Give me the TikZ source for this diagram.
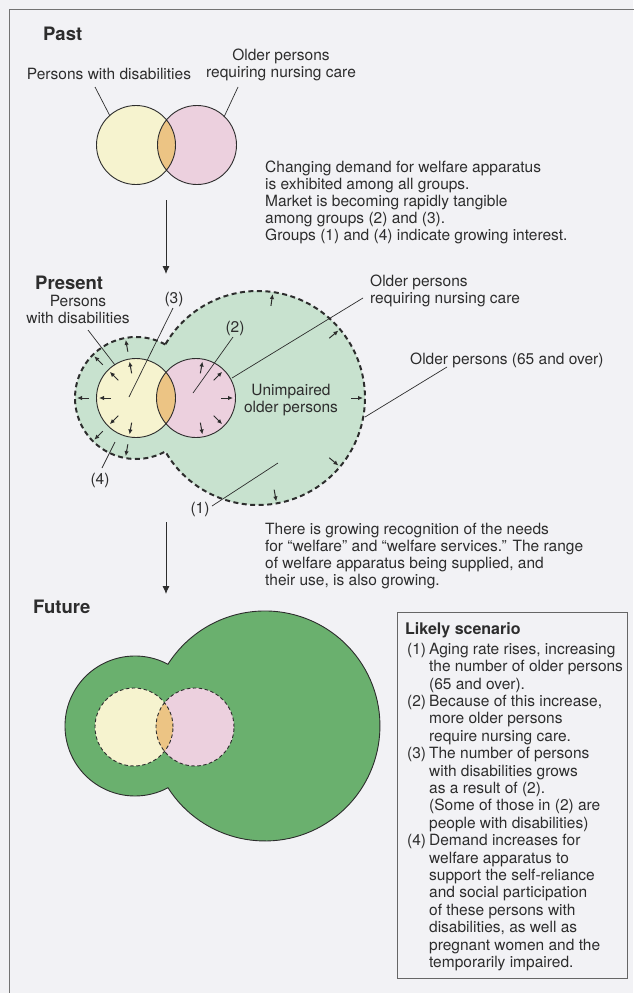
\documentclass[tikz,border=0pt]{standalone}
\usepackage{fontspec}
\setmainfont{TeX Gyre Heros}
\usetikzlibrary{positioning,arrows.meta}

\definecolor{paper}{RGB}{242,242,245}
\definecolor{yel}{RGB}{246,243,207}
\definecolor{pnk}{RGB}{236,208,222}
\definecolor{ora}{RGB}{236,196,132}
\definecolor{mint}{RGB}{200,226,207}
\definecolor{leaf}{RGB}{106,176,110}
\definecolor{ink}{RGB}{45,45,45}

\begin{document}
\begin{tikzpicture}[x=1pt, y=1pt,
        every node/.style={inner sep=0pt, text=ink},
        txt/.style={font=\fontsize{15.5}{17}\selectfont, align=left},
        head/.style={font=\fontsize{18.5}{20}\selectfont\bfseries},
        lead/.style={draw=ink, line width=0.7pt},
        flow/.style={draw=ink, line width=0.9pt, -{Latex[length=8pt,width=7pt]}},
        spread/.style={draw=ink, line width=1pt, -{Latex[length=5pt,width=4.5pt]}},
        ring/.style={draw=ink, line width=0.9pt},
        dashrim/.style={draw=ink, line width=2pt, dash pattern=on 5pt off 3.5pt},
        thinrim/.style={draw=ink, line width=0.9pt, dash pattern=on 3.5pt off 2.5pt}
    ]
    \fill[paper] (0,0) rectangle (633,-993);
    \useasboundingbox (0,0) rectangle (633,-993);
    \draw[black!55, line width=1pt] (9,-1000) -- (9,-9) -- (640,-9);

    % past
    \node[head, anchor=west] (past) at (43,-34) {Past};
    \coordinate (pY) at (136,-145);
    \coordinate (pP) at (197,-145);
    \fill[yel] (pY) circle (39.5);
    \fill[pnk] (pP) circle (39.5);
    \begin{scope}
        \clip (pY) circle (39.5);
        \fill[ora] (pP) circle (39.5);
    \end{scope}
    \draw[ring] (pY) circle (39.5) (pP) circle (39.5);
    \node[txt] (pastY) at (109,-74) {Persons with disabilities};
    \node[txt, align=center, anchor=north] (pastP) at (281,-49) {Older persons\\requiring nursing care};
    \coordinate (q1) at (95,-87);  \coordinate (q2) at (110,-116);
    \coordinate (q3) at (238,-87); \coordinate (q4) at (224,-117);
    \draw[lead] (q1) -- (q2);
    \draw[lead] (q3) -- (q4);

    \node[txt, anchor=north west] (msg1) at (265,-161) {Changing demand for welfare apparatus\\is exhibited among all groups.\\Market is becoming rapidly tangible\\among groups (2) and (3).\\Groups (1) and (4) indicate growing interest.};

    \coordinate (a1) at (166,-200);
    \coordinate (a2) at (166,-274);
    \draw[flow] (a1) -- (a2);

    % present
    \node[head, anchor=west] (present) at (35,-283) {Present};
    \coordinate (sC) at (136,-398);
    \coordinate (bC) at (258,-398);
    \coordinate (rY) at (136,-398);
    \coordinate (rP) at (196,-398);
    \fill[mint] (sC) circle (61) (bC) circle (107);
    \draw[dashrim] (sC) ++(61.3:61) arc[start angle=61.3, end angle=298.7, radius=61]
        arc[start angle=-150, end angle=150, radius=107] -- cycle;
    \fill[yel] (rY) circle (39.5);
    \fill[pnk] (rP) circle (39.5);
    \begin{scope}
        \clip (rY) circle (39.5);
        \fill[ora] (rP) circle (39.5);
    \end{scope}
    \draw[ring] (rY) circle (39.5) (rP) circle (39.5);
    \foreach \a in {100,135,180,225,260} {
        \draw[spread] (sC) ++(\a:47) -- ++(\a:12);
        \draw[spread] (rY) ++(\a:25) -- ++(\a:12);
    }
    \foreach \a in {80,45,0,-45,-80}
        \draw[spread] (rP) ++(\a:25) -- ++(\a:12);
    \foreach \a in {82,40,0,-40,-80}
        \draw[spread] (bC) ++(\a:93) -- ++(\a:12);

    \node[txt, align=center, anchor=north] (prY) at (78,-295) {Persons\\with disabilities};
    \node[txt] (n3) at (174,-299) {(3)};
    \node[txt] (n2) at (235,-328) {(2)};
    \node[txt, anchor=north west] (prP) at (370,-275) {Older persons\\requiring nursing care};
    \node[txt, anchor=west] (old65) at (410,-360) {Older persons (65 and over)};
    \node[txt, align=center] (unimp) at (291,-400) {Unimpaired\\older persons};
    \node[txt] (n4) at (100,-480) {(4)};
    \node[txt] (n1) at (200,-509) {(1)};
    \coordinate (e1) at (88,-330);  \coordinate (t1) at (115,-365);
    \coordinate (e3) at (173,-308); \coordinate (t3) at (129,-397);
    \coordinate (e2) at (233,-337); \coordinate (t2) at (193,-393);
    \coordinate (eP) at (363,-298); \coordinate (tP) at (232,-378);
    \coordinate (e65) at (447,-367); \coordinate (t65) at (365,-417);
    \coordinate (e4) at (102,-468); \coordinate (t4) at (115,-442);
    \coordinate (e1b) at (212,-506); \coordinate (t1b) at (278,-463);
    \draw[lead] (e1) -- (t1);
    \draw[lead] (e3) -- (t3);
    \draw[lead] (e2) -- (t2);
    \draw[lead] (eP) -- (tP);
    \draw[lead] (e65) -- (t65);
    \draw[lead] (e4) -- (t4);
    \draw[lead] (e1b) -- (t1b);

    \node[txt, anchor=north west] (msg2) at (265,-523) {There is growing recognition of the needs\\for ``welfare'' and ``welfare services.'' The range\\of welfare apparatus being supplied, and\\their use, is also growing.};

    \coordinate (a3) at (166,-522);
    \coordinate (a4) at (166,-594);
    \draw[flow] (a3) -- (a4);

    % future
    \node[head, anchor=west] (future) at (33,-607) {Future};
    \coordinate (fS) at (135,-726);
    \coordinate (fB) at (265,-726);
    \coordinate (fY) at (134,-727);
    \coordinate (fP) at (195,-727);
    \fill[leaf] (fS) circle (70) (fB) circle (115);
    \draw[ring] (fS) ++(61.9:70) arc[start angle=61.9, end angle=298.1, radius=70]
        arc[start angle=-147.5, end angle=147.5, radius=115] -- cycle;
    \fill[yel] (fY) circle (39);
    \fill[pnk] (fP) circle (39);
    \begin{scope}
        \clip (fY) circle (39);
        \fill[ora] (fP) circle (39);
    \end{scope}
    \draw[thinrim] (fY) circle (39) (fP) circle (39);

    % scenario box
    \draw[black!60, line width=0.8pt] (397,-612) rectangle (627,-978);
    \node[font=\fontsize{16}{18}\selectfont\bfseries, anchor=west] (likely) at (405,-630) {Likely scenario};
    \node[anchor=north west, font=\fontsize{15.5}{17.4}\selectfont] (steps) at (407,-642) {%
        \begin{tabular}{@{}l@{\hspace{3pt}}l@{}}
        (1) & Aging rate rises, increasing\\
            & the number of older persons\\
            & (65 and over).\\
        (2) & Because of this increase,\\
            & more older persons\\
            & require nursing care.\\
        (3) & The number of persons\\
            & with disabilities grows\\
            & as a result of (2).\\
            & (Some of those in (2) are\\
            & people with disabilities)\\
        (4) & Demand increases for\\
            & welfare apparatus to\\
            & support the self-reliance\\
            & and social participation\\
            & of these persons with\\
            & disabilities, as well as\\
            & pregnant women and the\\
            & temporarily impaired.
        \end{tabular}};
\end{tikzpicture}
\end{document}
